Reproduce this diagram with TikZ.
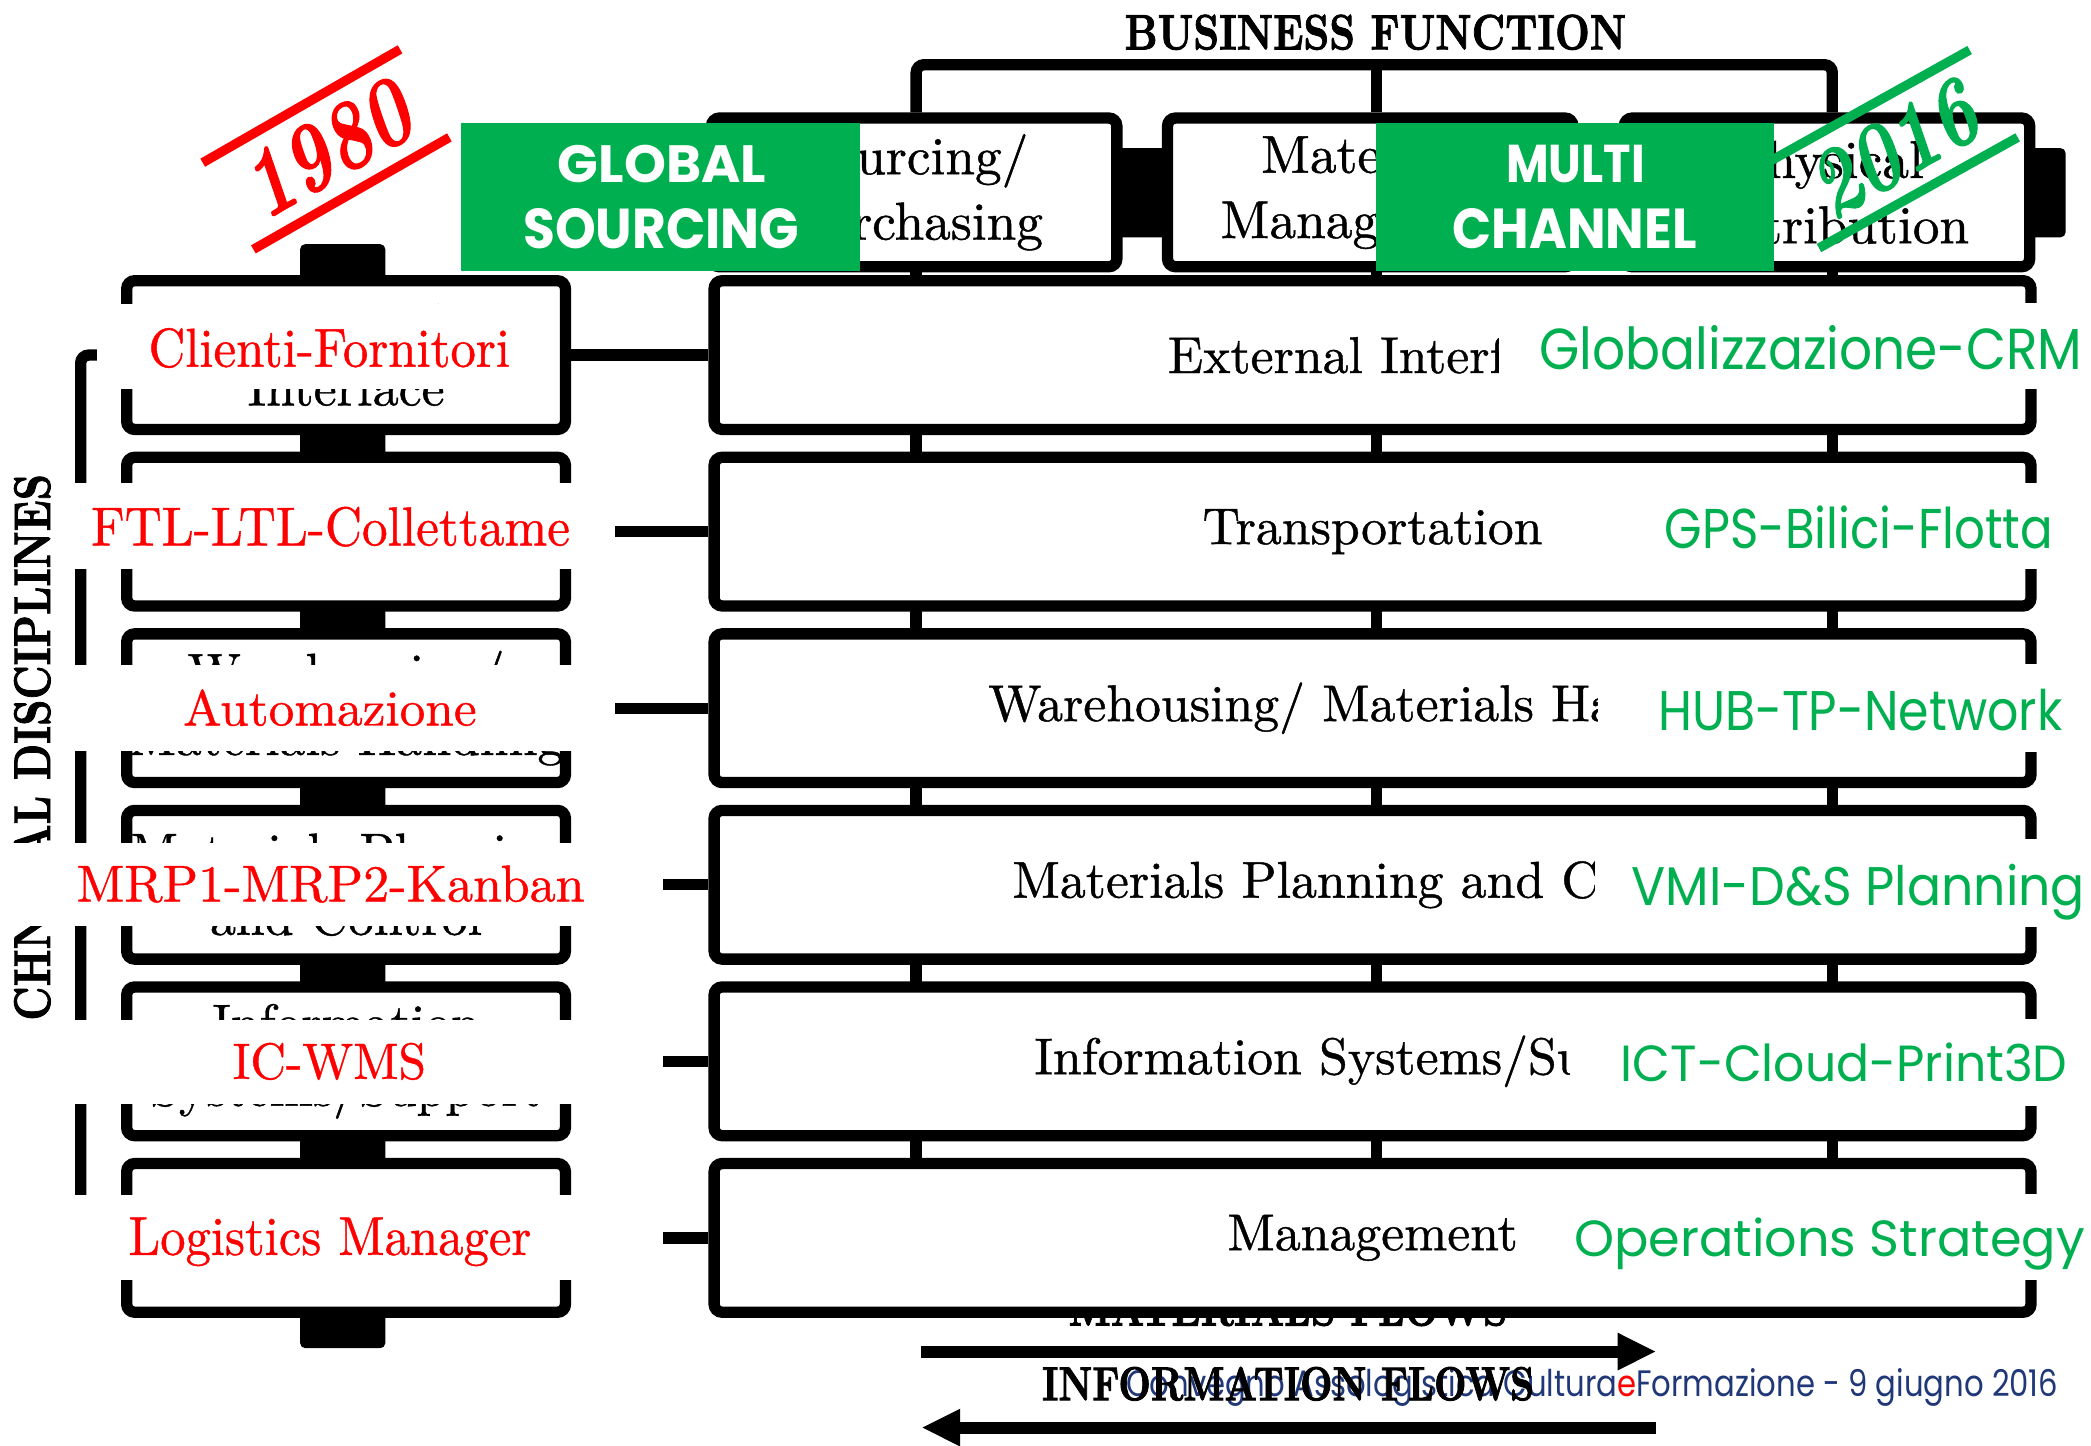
\documentclass[tikz,border=0pt]{standalone}
\usepackage{fontspec}
\newfontfamily\gsans{Poppins}
\newfontfamily\boxserif{lmroman10-regular.otf}[FakeBold=0.8]
\newfontfamily\heavyfont{lmroman10-bold.otf}[FakeBold=1.8]
\newfontfamily\heavyit{lmroman10-bolditalic.otf}[FakeBold=1.2]
\usetikzlibrary{arrows.meta,backgrounds}
\pgfdeclarelayer{bottomlayer}
\pgfsetlayers{bottomlayer,background,main}
\definecolor{pgreen}{RGB}{0,176,80}
\definecolor{pred}{RGB}{255,0,0}
\definecolor{pnavy}{RGB}{32,56,120}
\begin{document}
\begin{tikzpicture}[x=0.5pt,y=-0.5pt,
  conn/.style={line width=4.25pt, black},
  boxframe/.style={draw=black, fill=white, line width=4.25pt, rounded corners=3pt, inner sep=0pt, align=center, font=\boxserif\fontsize{19.4pt}{24.5pt}\selectfont},
  lbox/.style={boxframe, minimum width=164.5pt, minimum height=55.75pt},
  bbox/.style={boxframe, minimum width=493.75pt, minimum height=55.75pt},
  hbox/.style={boxframe, minimum width=152pt, minimum height=55.75pt, font=\boxserif\fontsize{20pt}{24.5pt}\selectfont},
  wcover/.style 2 args={fill=white, inner sep=0pt, minimum width=#1, minimum height=#2},
  lab/.style={inner sep=0pt, anchor=base west},
  redlab/.style={lab, text=pred},
  grnlab/.style={lab, text=pgreen, font=\gsans},
  gbox/.style={fill=pgreen, inner sep=0pt, minimum width=149.5pt, minimum height=55.5pt},
  yline/.style={line width=3.5pt},
  blk/.style={fill=black, inner sep=0pt, rounded corners=2pt},
  flow/.style={line width=4.5pt, -{Triangle[length=14.5pt,width=13pt]}}
]
\useasboundingbox (0,0) rectangle (1568,1084);
\begin{pgfonlayer}{bottomlayer}
  \fill[white] (0,0) rectangle (1568,1084);
\end{pgfonlayer}

\coordinate (cx1) at (687,0);
\coordinate (cx2) at (1032,0);
\coordinate (cx3) at (1374,0);
\coordinate (tb) at (1032,48.5);

% header boxes
\node[hbox] (H1) at (685.5,144.25) {Sourcing/\\Purchasing};
\node[hbox] (H2) at (1027.5,144.25) {Materials\\Management};
\node[hbox] (H3) at (1370,144.25) {Physical\\Distribution};

% left boxes
\node[lbox] (L1) at (259.5,266.25) {External\\Interface};
\node[lbox] (L2) at (259.5,398.65) {Transportation};
\node[lbox] (L3) at (259.5,531.05) {Warehousing/\\Materials Handling};
\node[lbox] (L4) at (259.5,663.45) {Materials Planning\\and Control};
\node[lbox] (L5) at (259.5,795.85) {Information\\Systems/Support};
\node[lbox] (L6) at (259.5,928.25) {Management};

% big boxes
\node[bbox] (B1) at (1029.25,266.25) {External Interface};
\node[bbox] (B2) at (1029.25,398.65) {Transportation};
\node[bbox] (B3) at (1029.25,531.05) {Warehousing/ Materials Handling};
\node[bbox] (B4) at (1029.25,663.45) {Materials Planning and Control};
\node[bbox] (B5) at (1029.25,795.85) {Information Systems/Support};
\node[bbox] (B6) at (1029.25,928.25) {Management};

\begin{scope}[on background layer]
  \draw[conn, rounded corners=3pt] (H1.north -| cx1) -- (cx1 |- tb) -- (cx3 |- tb) -- (H3.north -| cx3);
  \draw[conn] (tb) -- (H2.north -| tb);
  \foreach \c in {cx1,cx2,cx3} {\draw[conn] (H1.south -| \c) -- (B6.north -| \c);}
  \node[blk, minimum width=19.25pt, minimum height=33.5pt] (hb1) at (856,144.5) {};
  \node[blk, minimum width=14pt, minimum height=33.5pt] (hb2) at (1535,144.5) {};
  \node[blk, minimum width=32pt, minimum height=414pt] (spine) at (257,597) {};
  \node[lab] (matflow) at (801,994) {\resizebox{164.5pt}{12.5pt}{\heavyfont MATERIALS FLOWS}};
\end{scope}

% left to big connectors
\foreach \k in {1,...,6} {\draw[conn] (L\k.east) -- (B\k.west);}

% left bracket
\coordinate (brT) at (80,266.25);
\coordinate (brB) at (80,928.25);
\draw[conn, rounded corners=3pt] (brT) -- (60.5,266.25) -- (60.5,928.25) -- (brB);

% vertical title
\node[rotate=90, anchor=base east, inner sep=0pt] (vt) at (37.5,355)
  {\scalebox{0.80}[1]{\heavyfont\fontsize{19.3pt}{20pt}\selectfont TECHNICAL DISCIPLINES}};

% business function title
\node[lab] (bf) at (843,37) {\resizebox{188pt}{13pt}{\heavyfont BUSINESS FUNCTION}};

% left white covers and red labels
\node[wcover={172.5pt}{32pt}] (r1) at (245.5,260) {};
\node[wcover={208pt}{32.5pt}] (r2) at (253,394.5) {};
\node[wcover={208pt}{32pt}] (r3) at (253,531) {};
\node[wcover={247pt}{31pt}] (r4) at (250,663) {};
\node[wcover={247pt}{31.5pt}] (r5) at (250,796.5) {};
\node[wcover={247pt}{32pt}] (r6) at (250,928) {};
\node[redlab] (t1) at (111,275) {\resizebox{135.5pt}{14.5pt}{\boxserif Clienti-Fornitori}};
\node[redlab] (t2) at (68,409) {\resizebox{179.5pt}{14.5pt}{\boxserif FTL-LTL-Collettame}};
\node[redlab] (t3) at (137,544) {\resizebox{110pt}{13.5pt}{\boxserif Automazione}};
\node[redlab] (t4) at (57,676) {\resizebox{190.5pt}{13.5pt}{\boxserif MRP1-MRP2-Kanban}};
\node[redlab] (t5) at (174,809) {\resizebox{72.5pt}{13.5pt}{\boxserif IC-WMS}};
\node[redlab] (t6) at (96,941) {\resizebox{151pt}{14pt}{\boxserif Logistics Manager}};

% right white covers and green labels
\node[wcover={222pt}{32.5pt}] (g1) at (1346,259.5) {};
\node[wcover={201.5pt}{32.5pt}] (g2) at (1366.5,394.5) {};
\node[wcover={185pt}{33pt}] (g3) at (1383,531) {};
\node[wcover={186pt}{33pt}] (g4) at (1382,662) {};
\node[wcover={195.5pt}{32.5pt}] (g5) at (1372.5,796.5) {};
\node[wcover={209pt}{32.5pt}] (g6) at (1359,927.5) {};
\node[grnlab] (s1) at (1154,277) {\resizebox{203.5pt}{16.5pt}{Globalizzazione-CRM}};
\node[grnlab] (s2) at (1248,411) {\resizebox{145.5pt}{16pt}{GPS-Bilici-Flotta}};
\node[grnlab] (s3) at (1243,548) {\resizebox{151.5pt}{15.5pt}{HUB-TP-Network}};
\node[grnlab] (s4) at (1223,679) {\resizebox{170pt}{15.5pt}{VMI-D\&S Planning}};
\node[grnlab] (s5) at (1215,811) {\resizebox{167.5pt}{14.5pt}{ICT-Cloud-Print3D}};
\node[grnlab] (s6) at (1180,942) {\resizebox{191.5pt}{14.5pt}{Operations Strategy}};

% year marks
\draw[yline, pred] (152,122) -- (300,37);
\draw[yline, pred] (190,187) -- (337,103);
\node[rotate=30, text=pred, inner sep=0pt] (y1980) at (245,112) {\resizebox{67pt}{24pt}{\heavyit 1980}};
\draw[yline, pgreen] (1328,120.5) -- (1477,37.5);
\draw[yline, pgreen] (1364,186) -- (1513,103);

% green banners
\node[gbox] (gs) at (495.5,147.5) {};
\node[lab, text=white] (gs1) at (418,137) {\resizebox{78pt}{14pt}{\gsans\bfseries GLOBAL}};
\node[lab, text=white] (gs2) at (392,186) {\resizebox{103.5pt}{15pt}{\gsans\bfseries SOURCING}};
\node[gbox, minimum width=149pt] (mc) at (1181,147.5) {};
\node[lab, text=white] (mc1) at (1129,137) {\resizebox{52pt}{14pt}{\gsans\bfseries MULTI}};
\node[lab, text=white] (mc2) at (1089,186) {\resizebox{91.5pt}{15pt}{\gsans\bfseries CHANNEL}};

\node[rotate=30, text=pgreen, inner sep=0pt] (y2016) at (1420,112) {\resizebox{67pt}{24pt}{\heavyit 2016}};

% footer
\node[lab, text=pnavy] (foot) at (844,1047) {\resizebox{349.5pt}{10.5pt}{\gsans Convegno Assologistica Cultura{\color{pred}e}Formazione - 9 giugno 2016}};

% flows
\coordinate (ma1) at (691,1013.5);
\coordinate (ma2) at (1242,1013.5);
\draw[flow] (ma1) -- (ma2);
\coordinate (ia1) at (1242,1070.5);
\coordinate (ia2) at (691,1070.5);
\draw[flow] (ia1) -- (ia2);
\node[lab] (infflow) at (781,1050) {\resizebox{184.5pt}{12.5pt}{\heavyfont INFORMATION FLOWS}};
\end{tikzpicture}
\end{document}
